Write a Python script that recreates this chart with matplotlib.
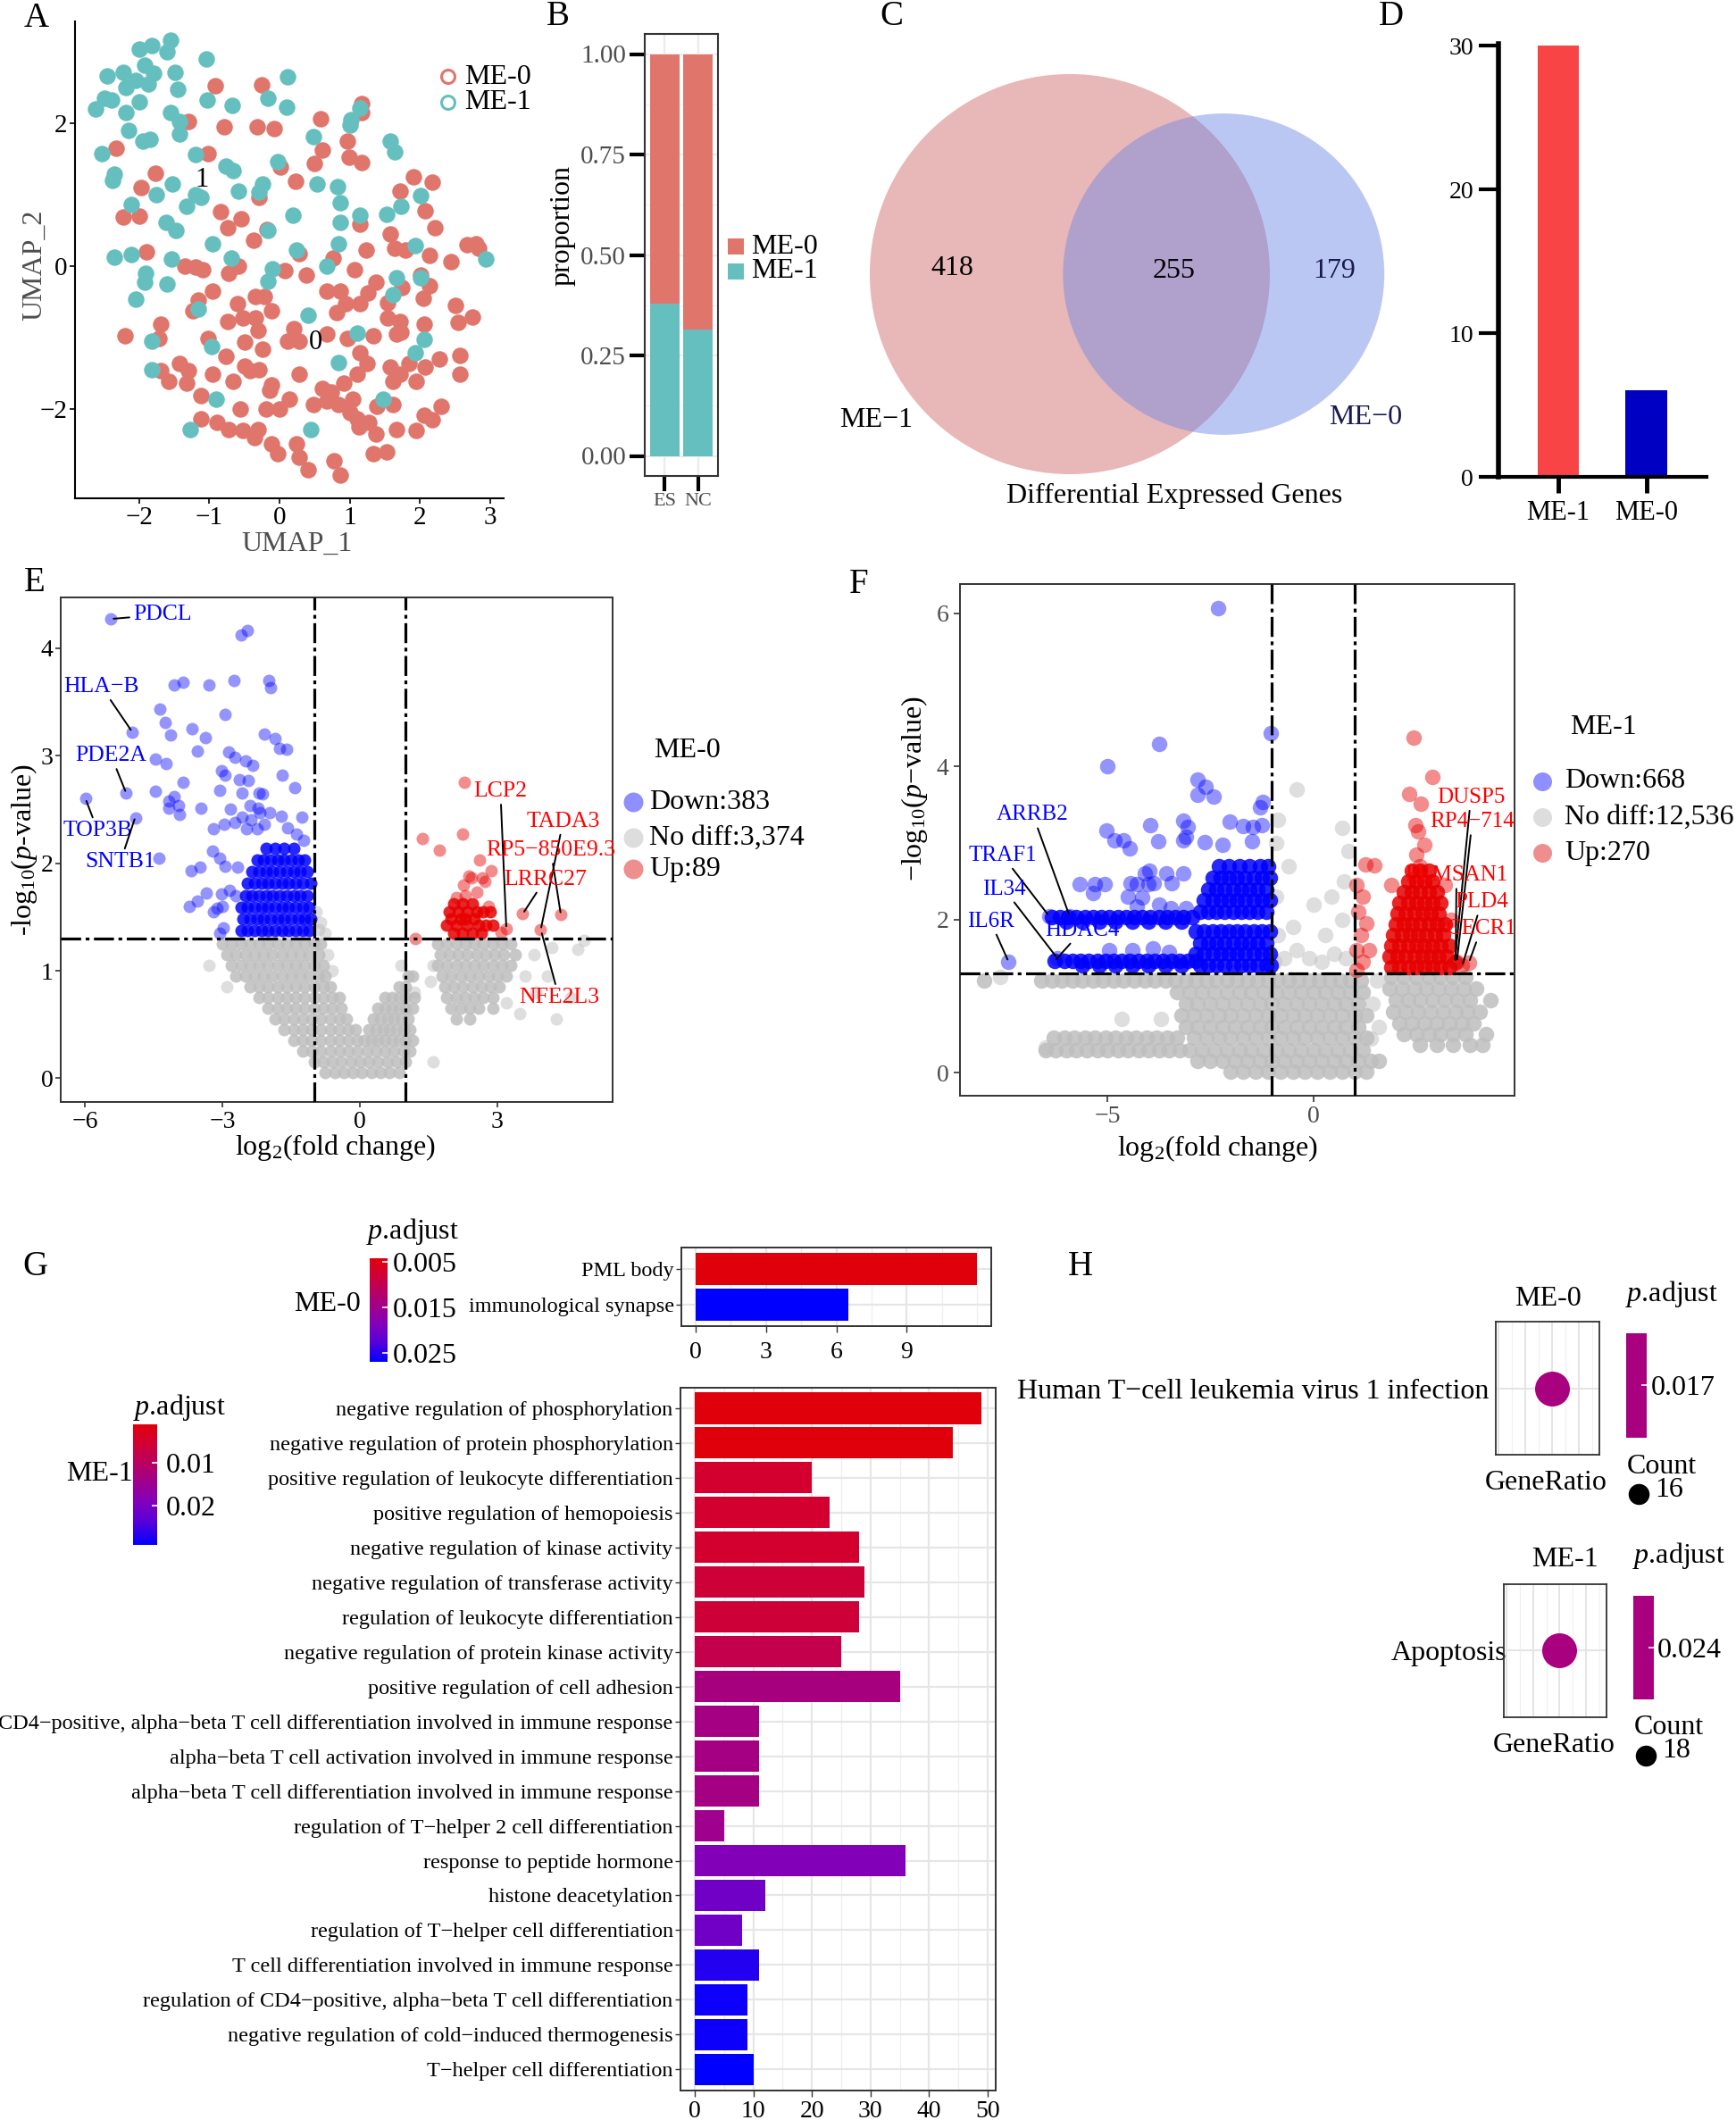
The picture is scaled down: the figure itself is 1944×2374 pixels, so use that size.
import numpy as np
import matplotlib
matplotlib.use("Agg")
import matplotlib.pyplot as plt
from matplotlib.colors import LinearSegmentedColormap, ListedColormap, Normalize
from matplotlib.cm import ScalarMappable
from matplotlib.patches import Circle
from matplotlib.ticker import MultipleLocator

plt.rcParams["font.family"] = ["Liberation Serif", "DejaVu Serif"]
plt.rcParams["mathtext.fontset"] = "custom"
plt.rcParams["mathtext.rm"] = "Liberation Serif"
plt.rcParams["mathtext.it"] = "Liberation Serif:italic"
plt.rcParams["mathtext.bf"] = "Liberation Serif:bold"

# ---------------- data ----------------
# A: UMAP coordinates
UMAP_ME0 = [
    (-0.92, 2.53), (-0.26, 2.54), (1.17, 2.28), (1.17, 2.15), (-1.29, 2.03), (-0.79, 1.96), (-0.32, 1.96),
    (-0.07, 1.93), (0.58, 2.07), (0.97, 1.76), (0.61, 1.63), (0.99, 1.53), (1.17, 1.45), (-1.02, 1.58),
    (-2.33, 1.66), (0.49, 1.44), (0.01, 1.39), (0.23, 1.19), (1.91, 1.25), (2.17, 1.18), (1.71, 1.06),
    (-1.77, 1.30), (-1.97, 1.11), (-0.29, 0.97), (-2.22, 0.69), (-2.00, 0.71), (-0.84, 0.77), (-0.54, 0.67),
    (-0.74, 0.54), (-0.37, 0.37), (-0.18, 0.52), (1.14, 0.59), (2.07, 0.78), (2.21, 0.54), (1.57, 0.45),
    (1.64, 0.25), (1.79, 0.23), (2.14, 0.15), (1.23, 0.23), (0.76, 0.12), (0.28, 0.18), (2.44, 0.07),
    (2.67, 0.30), (2.79, 0.32), (2.84, 0.25), (-1.89, 0.21), (-1.35, 0.00), (-1.20, -0.01), (-1.09, -0.05),
    (-0.72, -0.10), (-0.59, 0.00), (0.08, -0.06), (0.38, -0.12), (0.68, -0.35), (0.86, -0.35), (1.07, -0.05),
    (1.37, -0.22), (1.26, -0.37), (1.14, -0.52), (1.54, -0.51), (1.74, -0.30), (2.01, -0.12), (2.14, -0.27),
    (2.04, -0.44), (2.50, -0.54), (2.74, -0.71), (2.54, -0.78), (1.54, -0.72), (1.71, -0.77), (1.73, -0.92),
    (1.34, -0.97), (1.67, -0.94), (2.06, -0.81), (0.81, -0.64), (0.94, -0.52), (0.97, -1.01), (0.68, -0.94),
    (0.20, -0.87), (0.28, -1.05), (0.11, -1.04), (-0.12, -0.62), (-0.34, -0.72), (-0.30, -0.89), (-0.52, -0.72),
    (-0.74, -0.77), (-0.60, -0.52), (-0.34, -0.42), (-0.22, -0.42), (-0.95, -0.35), (-1.15, -0.47), (-1.23, -0.62),
    (-1.69, -0.81), (-1.72, -1.01), (-2.20, -0.97), (-1.02, -1.01), (-0.49, -1.06), (-0.24, -1.16), (-0.76, -1.26),
    (-1.42, -1.36), (-1.29, -1.46), (-1.69, -1.46), (-1.57, -1.61), (-1.32, -1.63), (-1.12, -1.81), (-0.95, -1.51),
    (-0.66, -1.61), (-0.50, -1.39), (-0.29, -1.44), (-0.42, -1.46), (-0.12, -1.66), (-0.14, -1.73), (0.28, -1.51),
    (0.61, -1.71), (0.74, -1.76), (0.91, -1.63), (1.04, -1.86), (1.14, -1.21), (1.24, -1.36), (1.11, -1.51),
    (1.57, -1.41), (1.71, -1.51), (1.61, -1.61), (1.84, -1.36), (2.07, -1.41), (2.27, -1.29), (2.57, -1.24),
    (2.57, -1.51), (1.94, -1.61), (1.61, -1.93), (1.39, -1.96), (1.01, -2.05), (0.84, -1.93), (0.68, -1.88),
    (0.48, -1.93), (0.14, -1.86), (0.00, -2.00), (-0.19, -2.00), (-0.56, -2.00), (-1.12, -2.13), (-0.89, -2.18),
    (-0.72, -2.28), (-0.52, -2.30), (-0.36, -2.40), (-0.30, -2.28), (-0.12, -2.48), (-0.02, -2.62), (0.24, -2.48),
    (0.28, -2.67), (0.41, -2.84), (0.78, -2.72), (0.86, -2.92), (1.13, -2.25), (1.11, -2.13), (1.27, -2.18),
    (1.37, -2.35), (1.34, -2.62), (1.53, -2.60), (1.67, -2.28), (1.94, -2.30), (2.06, -2.08), (2.17, -2.15),
    (2.30, -1.96),
]
UMAP_ME1 = [
    (-1.55, 3.17), (-1.60, 3.00), (-1.82, 3.09), (-1.99, 3.04), (-1.92, 2.82), (-1.79, 2.70), (-1.87, 2.55),
    (-2.05, 2.60), (-2.22, 2.72), (-2.45, 2.67), (-2.19, 2.50), (-1.99, 2.30), (-2.39, 2.33), (-2.62, 2.20),
    (-2.49, 2.35), (-2.19, 2.15), (-1.49, 2.72), (-1.45, 2.48), (-1.55, 2.15), (-1.42, 2.03), (-1.42, 1.86),
    (-2.15, 1.91), (-1.95, 1.76), (-1.84, 1.78), (-2.53, 1.58), (-2.35, 1.29), (-2.37, 1.21), (-2.11, 0.87),
    (-1.75, 1.01), (-1.52, 1.16), (-1.19, 1.57), (-1.20, 1.01), (-1.32, 0.84), (-1.12, 0.97), (-1.62, 0.62),
    (-1.47, 0.50), (-2.35, 0.13), (-2.11, 0.17), (-1.54, 0.11), (-1.91, -0.10), (-1.92, -0.22), (-1.60, -0.25),
    (-2.05, -0.46), (-1.15, -0.59), (-1.03, 2.33), (-1.04, 2.90), (-0.67, 2.25), (-0.17, 2.36), (0.11, 2.66),
    (0.10, 2.23), (0.48, 1.82), (1.02, 2.05), (1.14, 2.22), (1.01, 1.98), (1.58, 1.76), (1.64, 1.60),
    (-0.02, 1.47), (-0.76, 1.41), (-0.66, 1.34), (-0.59, 1.06), (-0.24, 1.16), (-0.29, 1.04), (0.54, 1.16),
    (0.82, 1.12), (0.86, 0.89), (0.19, 0.72), (-0.16, 0.50), (-0.95, 0.32), (-0.69, 0.12), (0.24, 0.23),
    (-0.10, -0.03), (-0.17, -0.21), (0.84, 0.32), (0.87, 0.62), (1.14, 0.72), (1.53, 0.73), (1.73, 0.84),
    (2.01, 0.99), (1.93, 0.29), (0.68, 0.01), (1.66, -0.16), (2.01, -0.16), (1.61, -0.40), (0.41, -0.68),
    (1.11, -0.93), (2.06, -1.02), (1.93, -1.21), (2.94, 0.11), (-1.82, -1.04), (-0.97, -1.12), (0.84, -1.35),
    (-1.82, -1.44), (-0.90, -1.86), (1.47, -1.86), (-1.27, -2.28), (0.44, -2.28),
]
UMAP_CLUSTER_LABELS = {"1": (-1.11, 1.21), "0": (0.51, -1.06)}

# B: cell proportions
PROP_GROUPS = ["ES", "NC"]
PROP_ME1 = [0.38, 0.315]
PROP_ME0 = [0.62, 0.685]

# C: DEG overlap
VENN_ONLY_ME1 = 418
VENN_BOTH = 255
VENN_ONLY_ME0 = 179

# D
D_GROUPS = ["ME-1", "ME-0"]
D_VALUES = [30, 6]

# E: volcano ME-0 (sparse points one by one, dense clouds as rows of x at one y)
E_DOWN_SPARSE = [
    (-5.43, 4.27), (-2.59, 4.12), (-2.45, 4.16), (-4.05, 3.66), (-3.85, 3.68), (-3.29, 3.66), (-2.75, 3.70),
    (-1.99, 3.70), (-1.94, 3.63), (-4.36, 3.43), (-4.25, 3.31), (-4.97, 3.22), (-2.95, 3.38), (-4.13, 3.19),
    (-3.67, 3.25), (-3.38, 3.17), (-2.08, 3.20), (-1.85, 3.16), (-1.75, 3.07), (-1.60, 3.06), (-4.47, 2.97),
    (-4.23, 2.93), (-3.55, 3.04), (-2.86, 3.03), (-2.72, 2.98), (-2.50, 2.95), (-2.33, 2.91), (-3.03, 2.86),
    (-2.95, 2.82), (-2.63, 2.78), (-2.43, 2.77), (-1.69, 2.82), (-1.43, 2.70), (-5.10, 2.65), (-5.99, 2.60),
    (-4.47, 2.67), (-3.85, 2.75), (-4.18, 2.58), (-4.05, 2.62), (-3.96, 2.54), (-3.94, 2.45), (-4.18, 2.51),
    (-3.46, 2.51), (-3.06, 2.68), (-2.57, 2.65), (-2.21, 2.65), (-2.12, 2.64), (-2.39, 2.54), (-2.23, 2.51),
    (-4.90, 2.42), (-2.82, 2.50), (-2.57, 2.43), (-2.37, 2.40), (-2.18, 2.47), (-1.96, 2.47), (-1.72, 2.44),
    (-1.27, 2.43), (-3.20, 2.32), (-2.97, 2.36), (-2.72, 2.38), (-2.48, 2.32), (-2.24, 2.32), (-2.08, 2.36),
    (-1.58, 2.33), (-1.39, 2.27), (-1.23, 2.21), (-4.38, 2.05), (-3.69, 1.93), (-3.48, 1.96), (-3.22, 2.11),
    (-3.06, 2.05), (-2.95, 1.97), (-2.66, 1.96), (-3.55, 1.65), (-3.35, 1.72), (-3.12, 1.58), (-3.00, 1.60),
    (-3.20, 1.55), (-2.85, 1.75), (-2.70, 1.70), (-2.98, 1.40), (-3.05, 1.35), (-3.73, 1.60), (-3.02, 1.71),
]
E_DOWN_ROWS = {
    1.37: [-2.6, -2.45, -2.3, -2.15, -2.0, -1.85, -1.7, -1.55, -1.4, -1.25, -1.1],
    1.48: [-2.55, -2.4, -2.25, -2.1, -1.95, -1.8, -1.65, -1.5, -1.35, -1.2, -1.07],
    1.59: [-2.6, -2.45, -2.3, -2.15, -2.0, -1.85, -1.7, -1.55, -1.4, -1.25, -1.1],
    1.70: [-2.5, -2.35, -2.2, -2.05, -1.9, -1.75, -1.6, -1.45, -1.3, -1.15],
    1.81: [-2.45, -2.3, -2.15, -2.0, -1.85, -1.7, -1.55, -1.4, -1.25, -1.08],
    1.92: [-2.35, -2.2, -2.05, -1.9, -1.75, -1.6, -1.45, -1.3, -1.15],
    2.03: [-2.25, -2.1, -1.95, -1.8, -1.65, -1.5, -1.35, -1.2],
    2.14: [-2.05, -1.85, -1.65, -1.45],
}
E_UP_SPARSE = [
    (2.29, 2.75), (2.25, 2.27), (1.37, 2.23), (1.73, 2.12), (2.61, 2.03), (2.87, 1.93), (2.38, 1.88),
    (2.44, 1.86), (2.67, 1.86), (2.74, 1.83), (2.27, 1.80), (2.56, 1.73), (3.56, 1.53), (4.39, 1.52),
    (3.20, 1.39), (3.95, 1.38), (3.09, 1.36), (1.21, 1.30), (2.80, 1.60), (2.30, 1.70), (2.10, 1.68),
]
E_UP_ROWS = {
    1.35: [2.05, 2.25, 2.45, 2.65],
    1.42: [1.9, 2.1, 2.35, 2.6, 2.75, 2.9],
    1.48: [2.0, 2.2, 2.3, 2.5],
    1.55: [1.95, 2.15, 2.35, 2.55, 2.7, 2.85],
    1.62: [2.05, 2.25, 2.45],
}
E_GRAY_ROWS = {
    1.25: [-3.0, -2.8, -2.6, -2.4, -2.2, -2.0, -1.8, -1.6, -1.4, -1.2, -1.0, -0.85,
           1.7, 1.9, 2.1, 2.3, 2.5, 2.7, 2.9, 3.1, 3.3],
    1.15: [-2.9, -2.7, -2.5, -2.3, -2.1, -1.9, -1.7, -1.5, -1.3, -1.1, -0.9,
           1.75, 1.95, 2.15, 2.35, 2.55, 2.75, 2.95, 3.15, 3.4],
    1.05: [-2.8, -2.6, -2.4, -2.2, -2.0, -1.8, -1.6, -1.4, -1.2, -1.0, -0.8,
           1.7, 1.9, 2.1, 2.3, 2.5, 2.7, 2.9, 3.1, 3.3],
    0.95: [-2.7, -2.5, -2.3, -2.1, -1.9, -1.7, -1.5, -1.3, -1.1, -0.9, -0.75, 1.05, 1.15,
           1.8, 2.0, 2.2, 2.4, 2.6, 2.8, 3.0, 3.2],
    0.85: [-2.4, -2.2, -2.0, -1.8, -1.6, -1.4, -1.2, -1.0, -0.8, -0.65, 0.85, 1.0,
           1.85, 2.05, 2.25, 2.45, 2.65, 2.85, 3.05],
    0.75: [-2.2, -2.0, -1.8, -1.6, -1.4, -1.2, -1.0, -0.8, -0.6, -0.45, 0.55, 0.7, 0.85, 1.0, 1.2,
           1.9, 2.1, 2.3, 2.5, 2.7, 2.9],
    0.65: [-2.0, -1.8, -1.6, -1.4, -1.2, -1.0, -0.8, -0.6, -0.4, 0.4, 0.55, 0.7, 0.85, 1.0, 1.15,
           2.0, 2.2, 2.4, 2.6, 2.9],
    0.55: [-1.85, -1.65, -1.45, -1.25, -1.05, -0.85, -0.65, -0.45, -0.3, 0.3, 0.45, 0.6, 0.75, 0.9, 1.05,
           2.1, 2.4],
    0.45: [-1.65, -1.45, -1.25, -1.05, -0.85, -0.65, -0.45, -0.25, -0.1, 0.2, 0.35, 0.5, 0.65, 0.8, 0.95, 1.1],
    0.35: [-1.45, -1.25, -1.05, -0.85, -0.65, -0.45, -0.25, -0.05, 0.1, 0.25, 0.4, 0.55, 0.7, 0.85, 1.0, 1.15],
    0.25: [-1.25, -1.05, -0.85, -0.65, -0.45, -0.25, -0.05, 0.15, 0.35, 0.55, 0.75, 0.95, 1.1],
    0.15: [-1.0, -0.8, -0.6, -0.4, -0.2, 0.0, 0.2, 0.4, 0.6, 0.8, 1.0],
    0.05: [-0.75, -0.55, -0.35, -0.15, 0.05, 0.25, 0.45, 0.65, 0.85],
}
E_GRAY_SPARSE = [
    (-0.95, 1.55), (-0.85, 1.45), (-0.9, 1.38), (-0.75, 1.35), (-0.7, 1.15), (-0.6, 1.0), (0.9, 1.05),
    (1.2, 0.8), (1.6, 0.15), (1.55, 0.9), (1.6, 1.05), (3.6, 0.95), (3.85, 0.8), (4.1, 0.95), (4.3, 0.55),
    (4.6, 0.75), (4.75, 1.2), (4.9, 1.28), (4.2, 1.22), (3.8, 1.15), (-3.3, 1.05), (-2.9, 0.85),
    (3.5, 0.6), (3.2, 0.7),
]
E_LABELS = [  # gene, point, text position, colour
    ("PDCL", (-5.43, 4.27), (-4.31, 4.31), "#0000FF"),
    ("HLA\u2212B", (-4.97, 3.22), (-5.64, 3.64), "#0000FF"),
    ("PDE2A", (-5.10, 2.65), (-5.43, 3.00), "#0000FF"),
    ("TOP3B", (-5.99, 2.60), (-5.72, 2.30), "#0000FF"),
    ("SNTB1", (-4.90, 2.43), (-5.23, 2.01), "#0000FF"),
    ("LCP2", (3.20, 1.39), (3.07, 2.67), "#FF0000"),
    ("TADA3", (3.95, 1.38), (4.44, 2.39), "#FF0000"),
    ("RP5\u2212850E9.3", (4.39, 1.52), (4.17, 2.12), "#FF0000"),
    ("LRRC27", (3.56, 1.53), (4.05, 1.85), "#FF0000"),
    ("NFE2L3", (3.96, 1.37), (4.35, 0.75), "#FF0000"),
]
E_COUNTS = ["Down:383", "No diff:3,374", "Up:89"]

# F: volcano ME-1
F_DOWN_SPARSE = [
    (-2.31, 6.07), (-1.03, 4.44), (-3.75, 4.30), (-5.00, 4.00), (-2.80, 3.83), (-2.62, 3.74), (-2.41, 3.61),
    (-2.80, 3.63), (-1.29, 3.47), (-1.22, 3.54), (-3.16, 3.29), (-3.05, 3.21), (-3.97, 3.24), (-2.03, 3.28),
    (-1.71, 3.22), (-1.46, 3.21), (-1.25, 3.24), (-5.03, 3.17), (-4.82, 3.04), (-4.62, 3.04), (-4.46, 2.93),
    (-3.77, 3.03), (-3.16, 3.04), (-3.09, 3.08), (-2.63, 3.01), (-2.21, 2.98), (-1.49, 3.02), (-3.98, 2.64),
    (-4.08, 2.61), (-3.58, 2.61), (-3.16, 2.61), (-4.43, 2.48), (-4.29, 2.46), (-4.01, 2.46), (-3.87, 2.48),
    (-3.44, 2.48), (-5.67, 2.47), (-5.31, 2.47), (-5.07, 2.47), (-5.35, 2.35), (-4.50, 2.30), (-4.15, 2.29),
    (-4.29, 2.17), (-3.75, 2.20), (-3.47, 2.15), (-3.09, 2.15), (-7.40, 1.45), (-4.95, 1.60), (-4.40, 1.60),
    (-3.90, 1.62), (-3.50, 1.58), (-6.42, 2.05), (-5.92, 2.05), (-6.22, 1.50),
]
F_DOWN_ROWS = {
    2.03: [-6.35, -6.15, -5.95, -5.75, -5.55, -5.35, -5.15, -4.95, -4.75, -4.55, -4.35, -4.15, -3.95,
           -3.75, -3.55, -3.35, -3.15, -2.95],
    1.97: [-6.0, -5.6, -5.2, -4.8, -4.4, -4.0, -3.6, -3.2],
    1.46: [-6.28, -6.05, -5.85, -5.65, -5.45, -5.25, -5.05, -4.85, -4.65, -4.45, -4.25, -4.05, -3.85,
           -3.65, -3.45, -3.25, -3.05, -2.85],
    1.40: [-5.6, -5.2, -4.8, -4.4, -4.0, -3.6, -3.2, -2.75, -2.55, -2.35, -2.15, -1.95, -1.75, -1.55,
           -1.35, -1.15, -1.03],
    1.55: [-2.85, -2.65, -2.45, -2.25, -2.05, -1.85, -1.65, -1.45, -1.25, -1.05],
    1.70: [-2.75, -2.55, -2.35, -2.15, -1.95, -1.75, -1.55, -1.35, -1.15],
    1.85: [-2.85, -2.65, -2.45, -2.25, -2.05, -1.85, -1.65, -1.45, -1.25, -1.05],
    2.10: [-2.75, -2.55, -2.35, -2.15, -1.95, -1.75, -1.55, -1.35, -1.15],
    2.25: [-2.65, -2.45, -2.25, -2.05, -1.85, -1.65, -1.45, -1.25, -1.05],
    2.40: [-2.55, -2.35, -2.15, -1.95, -1.75, -1.55, -1.35, -1.15],
    2.55: [-2.45, -2.25, -2.05, -1.85, -1.65, -1.45, -1.25, -1.05],
    2.70: [-2.3, -2.05, -1.8, -1.55, -1.3, -1.1],
}
F_UP_SPARSE = [
    (2.44, 4.38), (2.90, 3.86), (2.32, 3.64), (2.62, 3.51), (2.48, 3.24), (2.55, 3.15), (2.70, 2.98),
    (2.50, 2.85), (2.60, 2.70), (1.26, 2.72), (1.49, 2.71), (1.05, 2.45), (1.10, 2.10), (1.15, 1.80),
    (1.05, 1.60), (1.20, 1.45), (1.30, 1.95), (1.20, 2.30), (1.05, 1.35), (1.35, 1.60), (3.44, 1.45),
    (3.49, 1.45), (3.46, 1.44), (3.62, 1.40), (3.78, 1.44), (3.2, 2.45), (1.9, 2.45), (3.35, 2.0),
]
F_UP_ROWS = {
    1.38: [1.9, 2.1, 2.3, 2.5, 2.7, 2.9, 3.1, 3.3],
    1.52: [1.85, 2.05, 2.25, 2.45, 2.65, 2.85, 3.05, 3.25],
    1.66: [1.9, 2.1, 2.3, 2.5, 2.7, 2.9, 3.1, 3.3],
    1.80: [1.95, 2.15, 2.35, 2.55, 2.75, 2.95, 3.15],
    1.94: [2.0, 2.2, 2.4, 2.6, 2.8, 3.0, 3.2],
    2.08: [2.05, 2.25, 2.45, 2.65, 2.85, 3.05],
    2.22: [2.1, 2.3, 2.5, 2.7, 2.9, 3.1],
    2.36: [2.2, 2.4, 2.6, 2.8, 3.0],
    2.50: [2.3, 2.5, 2.7, 2.9],
    2.64: [2.4, 2.6, 2.8],
}
F_GRAY_ROWS = {
    0.02: [-2.0, -1.7, -1.4, -1.1, -0.8, -0.5, -0.2, 0.1, 0.4, 0.7, 1.0, 1.3],
    0.15: [-2.8, -2.5, -2.2, -1.9, -1.6, -1.3, -1.0, -0.7, -0.4, -0.1, 0.2, 0.5, 0.8, 1.1, 1.4, 1.6],
    0.30: [-6.5, -6.25, -6.0, -5.75, -5.5, -5.25, -5.0, -4.75, -4.5, -4.25, -4.0, -3.75, -3.5, -3.25,
           -3.0, -2.7, -2.4, -2.1, -1.8, -1.5, -1.2, -0.9, -0.6, -0.3, 0.0, 0.3, 0.6, 0.9, 1.2],
    0.46: [-6.3, -6.05, -5.8, -5.55, -5.3, -5.05, -4.8, -4.55, -4.3, -4.05, -3.8, -3.55, -3.3, -2.9,
           -2.6, -2.3, -2.0, -1.7, -1.4, -1.1, -0.8, -0.5, -0.2, 0.1, 0.4, 0.7, 1.0, 1.3],
    0.60: [-3.1, -2.8, -2.5, -2.2, -1.9, -1.6, -1.3, -1.0, -0.7, -0.4, -0.1, 0.2, 0.5, 0.8, 1.1],
    0.75: [-3.2, -2.9, -2.6, -2.3, -2.0, -1.7, -1.4, -1.1, -0.8, -0.5, -0.2, 0.1, 0.4, 0.7, 1.0, 1.3],
    0.90: [-3.1, -2.8, -2.5, -2.2, -1.9, -1.6, -1.3, -1.0, -0.7, -0.4, -0.1, 0.2, 0.5, 0.8, 1.1],
    1.05: [-3.3, -3.0, -2.7, -2.4, -2.1, -1.8, -1.5, -1.2, -0.9, -0.6, -0.3, 0.0, 0.3, 0.6, 0.9, 1.2],
    1.20: [-8.0, -6.6, -6.35, -6.1, -5.85, -5.6, -5.35, -5.1, -4.85, -4.6, -4.35, -4.1, -3.85, -3.6,
           -3.35, -3.1, -2.85, -2.6, -2.35, -2.1, -1.85, -1.6, -1.35, -1.1, -0.85, -0.6, -0.35, -0.1,
           0.15, 0.4, 0.65, 0.9, 1.15],
    1.25: [1.9, 2.2, 2.5, 2.8, 3.1, 3.4, 3.7],
    1.10: [1.85, 2.15, 2.45, 2.75, 3.05, 3.35, 3.65, 3.95],
    0.95: [2.0, 2.3, 2.6, 2.9, 3.2, 3.5, 3.8, 4.3],
    0.80: [1.95, 2.25, 2.55, 2.85, 3.15, 3.45, 3.75, 4.05],
    0.65: [2.1, 2.4, 2.7, 3.0, 3.3, 3.6, 3.9],
    0.50: [2.2, 2.5, 2.8, 3.1, 3.4, 3.7, 4.2],
    0.36: [2.6, 3.0, 3.4, 3.8, 4.1],
}
F_GRAY_SPARSE = [
    (-0.95, 1.45), (-0.7, 1.5), (-0.4, 1.6), (-0.1, 1.5), (0.2, 1.45), (0.5, 1.55), (0.8, 1.5),
    (-0.85, 1.8), (-0.5, 1.9), (0.3, 1.8), (0.7, 2.0), (-0.9, 2.3), (0.45, 2.3), (0.75, 2.5),
    (-0.6, 2.7), (-0.85, 3.3), (0.85, 2.9), (0.7, 3.2), (-0.4, 3.7), (-0.9, 3.0), (0.0, 2.2),
    (1.4, 0.45), (1.45, 0.9), (1.55, 1.2), (1.6, 0.6), (-4.66, 0.70), (-3.7, 0.70), (-6.49, 0.33),
    (-7.6, 1.25),
]
F_LABELS = [
    ("ARRB2", (-5.92, 2.05), (-6.81, 3.37), "#0000FF"),
    ("TRAF1", (-6.42, 2.05), (-7.55, 2.84), "#0000FF"),
    ("IL34", (-6.22, 1.50), (-7.51, 2.40), "#0000FF"),
    ("IL6R", (-7.40, 1.45), (-7.84, 1.98), "#0000FF"),
    ("HDAC4", (-6.28, 1.46), (-5.61, 1.86), "#0000FF"),
    ("DUSP5", (3.44, 1.45), (3.83, 3.60), "#FF0000"),
    ("RP4\u2212714", (3.49, 1.45), (3.86, 3.28), "#FF0000"),
    ("ELMSAN1", (3.46, 1.44), (3.48, 2.58), "#FF0000"),
    ("PLD4", (3.62, 1.40), (4.09, 2.23), "#FF0000"),
    ("CECR1", (3.78, 1.44), (4.08, 1.88), "#FF0000"),
]
F_COUNTS = ["Down:668", "No diff:12,536", "Up:270"]

# G: GO enrichment
GO_ME0_TERMS = ["PML body", "immunological synapse"]
GO_ME0_COUNT = [12, 6.5]
GO_ME0_PADJ = [0.0042, 0.027]
GO_ME1_TERMS = [
    "negative regulation of phosphorylation",
    "negative regulation of protein phosphorylation",
    "positive regulation of leukocyte differentiation",
    "positive regulation of hemopoiesis",
    "negative regulation of kinase activity",
    "negative regulation of transferase activity",
    "regulation of leukocyte differentiation",
    "negative regulation of protein kinase activity",
    "positive regulation of cell adhesion",
    "CD4\u2212positive, alpha\u2212beta T cell differentiation involved in immune response",
    "alpha\u2212beta T cell activation involved in immune response",
    "alpha\u2212beta T cell differentiation involved in immune response",
    "regulation of T\u2212helper 2 cell differentiation",
    "response to peptide hormone",
    "histone deacetylation",
    "regulation of T\u2212helper cell differentiation",
    "T cell differentiation involved in immune response",
    "regulation of CD4\u2212positive, alpha\u2212beta T cell differentiation",
    "negative regulation of cold\u2212induced thermogenesis",
    "T\u2212helper cell differentiation",
]
GO_ME1_COUNT = [49, 44, 20, 23, 28, 29, 28, 25, 35, 11, 11, 11, 5, 36, 12, 8, 11, 9, 9, 10]
GO_ME1_PADJ = [0.0011, 0.0011, 0.005, 0.005, 0.005, 0.006, 0.006, 0.008, 0.013, 0.0135,
               0.0135, 0.0135, 0.0145, 0.019, 0.021, 0.021, 0.027, 0.0285, 0.0285, 0.0293]

# H: KEGG dot plots (term, GeneRatio, Count, p.adjust)
H_ME0 = ("Human T\u2212cell leukemia virus 1 infection", 0.128, 16, 0.017)
H_ME1 = ("Apoptosis", 0.112, 18, 0.024)

# ---------------- styling ----------------
RED_A = "#E0756B"
TEAL_A = "#66BFBF"
PADJ_CMAP = LinearSegmentedColormap.from_list(
    "padj", [(0, "#E0000C"), (0.15, "#D20032"), (0.42, "#A8007E"),
             (0.63, "#8400B8"), (0.8, "#5A00D8"), (1, "#0000FF")])
H_COLOR = "#A8007E"
FS = 23

W, H = 1944, 2374
fig = plt.figure(figsize=(W / 100, H / 100), dpi=100)


def box(l, t, r, b):
    return [l / W, 1 - b / H, (r - l) / W, (b - t) / H]


def s_px(d):
    # scatter size for a marker of diameter d pixels
    return (d * 0.72) ** 2


def rows_xy(rows):
    xs, ys = [], []
    for y, xl in rows.items():
        xs += list(xl)
        ys += [y] * len(xl)
    return np.array(xs), np.array(ys)


def pts_xy(pts):
    a = np.array(pts)
    return a[:, 0], a[:, 1]


ov = fig.add_axes([0, 0, 1, 1], zorder=10)
ov.set_xlim(0, W)
ov.set_ylim(H, 0)
ov.axis("off")


def T(x, y, s, size=FS, **kw):
    kw.setdefault("ha", "center")
    kw.setdefault("va", "center")
    ov.text(x, y, s, fontsize=size, **kw)


def dot(x, y, d, color, **kw):
    ov.scatter([x], [y], s=s_px(d), color=color, linewidths=0, **kw)


for lab, (x, y) in {"A": (41, 21), "B": (625, 19), "C": (998, 19), "D": (1558, 19),
                    "E": (39, 653), "F": (962, 654), "G": (39, 1419), "H": (1210, 1419)}.items():
    T(x, y, lab, 28)

# ---------------- A ----------------
axA = fig.add_axes(box(84, 24, 564, 557.5))
axA.scatter(*pts_xy(UMAP_ME0), s=s_px(18.5), color=RED_A, linewidths=0)
axA.scatter(*pts_xy(UMAP_ME1), s=s_px(18.5), color=TEAL_A, linewidths=0)
for lab, (x, y) in UMAP_CLUSTER_LABELS.items():
    axA.text(x, y, lab, fontsize=22, ha="center", va="center")
axA.set_xlim(-2.91, 3.19)
axA.set_ylim(-3.24, 3.43)
axA.set_xticks([-2, -1, 0, 1, 2, 3])
axA.set_yticks([-2, 0, 2])
for sp in ["top", "right"]:
    axA.spines[sp].set_visible(False)
for sp in ["left", "bottom"]:
    axA.spines[sp].set_linewidth(1.5)
axA.tick_params(labelsize=21, length=4, width=1.2)
axA.tick_params(axis="x", pad=3)
axA.tick_params(axis="y", pad=2)
T(332, 609, "UMAP_1", color="#4D4D4D")
T(39, 297, "UMAP_2", color="#4D4D4D", rotation=90)
for (y, lab, c) in [(86, "ME-0", RED_A), (115, "ME-1", TEAL_A)]:
    ov.scatter([502], [y], s=s_px(15), facecolors="none", edgecolors=c, linewidths=2.2)
    T(520, y, lab, ha="left")

# ---------------- B ----------------
axB = fig.add_axes(box(722, 38, 804, 533))
xb = np.arange(len(PROP_GROUPS))
axB.bar(xb, PROP_ME1, width=0.9, color=TEAL_A, zorder=2)
axB.bar(xb, PROP_ME0, bottom=PROP_ME1, width=0.9, color=RED_A, zorder=2)
axB.set_xlim(-0.6, 1.6)
axB.set_ylim(-0.05, 1.05)
axB.set_xticks(xb, PROP_GROUPS)
axB.set_yticks([0, 0.25, 0.5, 0.75, 1.0], ["0.00", "0.25", "0.50", "0.75", "1.00"])
axB.yaxis.set_minor_locator(MultipleLocator(0.125))
axB.grid(True, which="major", color="#EBEBEB", lw=1.6, zorder=0)
axB.grid(True, which="minor", axis="y", color="#F2F2F2", lw=0.8, zorder=0)
axB.tick_params(axis="y", labelsize=21, length=12, width=3, labelcolor="#4D4D4D", pad=3)
axB.tick_params(axis="x", labelsize=16, length=12, width=3, labelcolor="#4D4D4D", pad=2)
axB.tick_params(which="minor", length=0)
for sp in axB.spines.values():
    sp.set_color("#333333")
    sp.set_linewidth(1.5)
T(630, 253, "proportion", rotation=90)
for (y, lab, c) in [(276, "ME-0", RED_A), (303.5, "ME-1", TEAL_A)]:
    ov.scatter([824], [y], s=s_px(18), marker="s", color=c, linewidths=0)
    T(841, y, lab, ha="left")

# ---------------- C ----------------
def lens_area(r1, r2, d):
    a1 = np.arccos((d * d + r1 * r1 - r2 * r2) / (2 * d * r1))
    a2 = np.arccos((d * d + r2 * r2 - r1 * r1) / (2 * d * r2))
    k = np.sqrt((-d + r1 + r2) * (d + r1 - r2) * (d - r1 + r2) * (d + r1 + r2))
    return r1 * r1 * a1 + r2 * r2 * a2 - 0.5 * k


# area-proportional circles: radius from set size, centre distance from the overlap
r_me1 = np.sqrt(VENN_ONLY_ME1 + VENN_BOTH)
r_me0 = np.sqrt(VENN_ONLY_ME0 + VENN_BOTH)
lo, hi = abs(r_me1 - r_me0) + 1e-6, r_me1 + r_me0 - 1e-6
for _ in range(60):
    mid = 0.5 * (lo + hi)
    if lens_area(r_me1, r_me0, mid) > np.pi * VENN_BOTH:
        lo = mid
    else:
        hi = mid
d_c = 0.5 * (lo + hi)

axC = fig.add_axes(box(960, 60, 1580, 560))
axC.set_xlim(-27.56, 44.24)
axC.set_ylim(-29.3, 28.6)
axC.axis("off")
axC.add_patch(Circle((0, 0), r_me1, facecolor="#E8B7B7", edgecolor="none"))
axC.add_patch(Circle((d_c, 0), r_me0, facecolor="#6C86E6", alpha=0.46, edgecolor="none"))
axC.text(-15.2, 0.8, str(VENN_ONLY_ME1), fontsize=FS, ha="center", va="center")
axC.text(13.5, 0.35, str(VENN_BOTH), fontsize=FS, ha="center", va="center")
axC.text(34.3, 0.35, str(VENN_ONLY_ME0), fontsize=FS, ha="center", va="center", color="#1A1A50")
axC.text(-25.1, -18.9, "ME\u22121", fontsize=FS, ha="center", va="center")
axC.text(38.4, -18.6, "ME\u22120", fontsize=FS, ha="center", va="center", color="#1A1A50")
T(1315, 555, "Differential Expressed Genes")

# ---------------- D ----------------
axD = fig.add_axes(box(1678, 49, 1911, 534))
axD.bar(np.arange(2), D_VALUES, width=0.47, color=["#F84444", "#0000C2"])
axD.set_xlim(-0.68, 1.685)
axD.set_ylim(0, 30.15)
axD.set_yticks([0, 10, 20, 30])
axD.set_xticks(np.arange(2), D_GROUPS)
for sp in ["top", "right"]:
    axD.spines[sp].set_visible(False)
axD.spines["left"].set_linewidth(4)
axD.spines["bottom"].set_linewidth(3)
axD.tick_params(axis="y", labelsize=20, length=16, width=3, pad=4)
axD.tick_params(axis="x", labelsize=22, length=13, width=3.5, pad=6)


# ---------------- E / F volcano ----------------
def volcano(ax, groups, size, labels, label_size, clip):
    # groups: (colour, sparse points, dense rows, sparse alpha)
    for color, sparse, rows, alpha in groups:
        z = 1 if color == "#BEBEBE" else 2
        ax.scatter(*rows_xy(rows), s=size, color=color, alpha=0.85, linewidths=0, zorder=z)
        ax.scatter(*pts_xy(sparse), s=size, color=color, alpha=alpha, linewidths=0, zorder=z)
    dash = (0, (7, 1.6, 1.3, 1.6))
    for xv in (-1, 1):
        ax.axvline(xv, color="black", lw=2.3, ls=dash, zorder=3)
    ax.axhline(-np.log10(0.05), color="black", lw=2.3, ls=dash, zorder=3)
    for name, pt, txt, c in labels:
        ax.annotate(name, xy=pt, xytext=txt, textcoords="data", ha="center", va="center",
                    color=c, fontsize=label_size, zorder=5, clip_on=clip,
                    arrowprops=dict(arrowstyle="-", color="black", lw=1.4, shrinkA=1, shrinkB=2))
    for sp in ax.spines.values():
        sp.set_color("#333333")
        sp.set_linewidth(1.4)


axE = fig.add_axes(box(68, 669, 685.5, 1234))
volcano(axE, [("#BEBEBE", E_GRAY_SPARSE, E_GRAY_ROWS, 0.5),
              ("#0000FF", E_DOWN_SPARSE, E_DOWN_ROWS, 0.42),
              ("#E60000", E_UP_SPARSE, E_UP_ROWS, 0.45)],
        s_px(14), E_LABELS, 18.5, False)
axE.set_xlim(-6.53, 5.51)
axE.set_ylim(-0.22, 4.47)
axE.set_xticks([-6, -3, 0, 3])
axE.set_yticks([0, 1, 2, 3, 4])
axE.tick_params(labelsize=20, length=4, width=1.2, color="#333333")
axE.tick_params(axis="x", pad=3)
axE.tick_params(axis="y", pad=2)
T(376, 1285, r"log$_2$(fold change)")
T(27, 952, r"-log$_{10}$($p$-value)", rotation=90)
T(769, 841, "ME-0")
for y, lab, c in zip([898, 938, 973], E_COUNTS, ["#8F8FFF", "#DDDDDD", "#EE8E8E"]):
    dot(709, y, 22, c)
    T(727, y, lab, ha="left")

axF = fig.add_axes(box(1075, 654.4, 1696, 1227))
volcano(axF, [("#BEBEBE", F_GRAY_SPARSE, F_GRAY_ROWS, 0.5),
              ("#0000FF", F_DOWN_SPARSE, F_DOWN_ROWS, 0.42),
              ("#E60000", F_UP_SPARSE, F_UP_ROWS, 0.45)],
        s_px(17.5), F_LABELS, 18, True)
axF.set_xlim(-8.58, 4.89)
axF.set_ylim(-0.30, 6.38)
axF.set_xticks([-5, 0])
axF.set_yticks([0, 2, 4, 6])
axF.tick_params(labelsize=20, length=5, width=1.2, color="#333333", labelcolor="#4D4D4D")
axF.tick_params(axis="x", pad=3)
axF.tick_params(axis="y", pad=4)
T(1364, 1286, r"log$_2$(fold change)")
T(1024, 883, "\u2212log$_{10}$($p$\u2212value)", rotation=90)
T(1795, 814, "ME-1")
for y, lab, c in zip([875, 915, 955], F_COUNTS, ["#8F8FFF", "#DDDDDD", "#EE8E8E"]):
    dot(1727, y, 21, c)
    T(1752, y, lab, ha="left")


# ---------------- G ----------------
def go_axes(ax, terms, counts, colors, xmax, step, minor, label_size, tick_size):
    y = np.arange(1, len(terms) + 1)
    ax.barh(y, counts, height=0.9, color=colors, zorder=2)
    ax.set_ylim(len(terms) + 0.6, 0.4)
    ax.set_xlim(-0.05 * xmax, 1.05 * xmax)
    ax.set_yticks(y, terms)
    ax.xaxis.set_major_locator(MultipleLocator(step))
    ax.xaxis.set_minor_locator(MultipleLocator(minor))
    ax.grid(True, which="major", color="#E6E6E6", lw=1.6, zorder=0)
    ax.grid(True, which="minor", axis="x", color="#EFEFEF", lw=0.9, zorder=0)
    ax.tick_params(axis="y", labelsize=label_size, length=4, width=1, color="#333333", pad=2)
    ax.tick_params(axis="x", labelsize=tick_size, length=5, width=1, color="#333333")
    ax.tick_params(which="minor", length=0)
    for sp in ax.spines.values():
        sp.set_color("#333333")
        sp.set_linewidth(1.4)


norm_g0 = Normalize(0.0042, 0.027)
norm_g1 = Normalize(0.0011, 0.0293)

axG1 = fig.add_axes(box(763.4, 1397, 1109.7, 1485.4))
go_axes(axG1, GO_ME0_TERMS, GO_ME0_COUNT, PADJ_CMAP(norm_g0(np.array(GO_ME0_PADJ))),
        12, 3, 1.5, 17.5, 20)
axG1.set_xticks([0, 3, 6, 9])
axG1.tick_params(axis="x", pad=7)

axG2 = fig.add_axes(box(762, 1553.6, 1115.4, 2340.7))
go_axes(axG2, GO_ME1_TERMS, GO_ME1_COUNT, PADJ_CMAP(norm_g1(np.array(GO_ME1_PADJ))),
        49, 10, 5, 17.5, 20)
axG2.set_xticks([0, 10, 20, 30, 40, 50])
axG2.tick_params(axis="x", pad=3)


def padj_bar(rect, norm, cmap, ticks, labels, invert=True, pad=4):
    cax = fig.add_axes(box(*rect))
    cb = fig.colorbar(ScalarMappable(norm=norm, cmap=cmap), cax=cax, ticks=ticks)
    if invert:
        cax.invert_yaxis()
    cb.outline.set_visible(False)
    cb.set_ticklabels(labels)
    cax.tick_params(labelsize=FS, color="white", length=4, width=1.2, direction="in", pad=pad)
    return cb


padj_bar((413.6, 1409, 433.7, 1525), norm_g0, PADJ_CMAP, [0.005, 0.015, 0.025],
         ["0.005", "0.015", "0.025"], pad=4)
T(462, 1379, "$p$.adjust")
T(366, 1461, "ME-0")
padj_bar((149, 1595.4, 176.3, 1730), norm_g1, PADJ_CMAP, [0.01, 0.02], ["0.01", "0.02"], pad=7)
T(201, 1576, "$p$.adjust")
T(111, 1651, "ME-1")


# ---------------- H ----------------
def kegg_axes(rect, item, title, title_xy, gr_xy, pbar_rect, ptitle_xy, count_xy):
    term, gr, count, padj = item
    ax = fig.add_axes(box(*rect))
    ax.scatter([gr], [0], s=s_px(39), color=H_COLOR, linewidths=0, zorder=3)
    ax.set_xlim(gr - 0.00425, gr + 0.00353)
    ax.set_ylim(-1, 1)
    ax.xaxis.set_major_locator(MultipleLocator(0.002))
    ax.xaxis.set_minor_locator(MultipleLocator(0.001))
    ax.set_yticks([0], [term])
    ax.grid(True, which="major", color="#E4E4E4", lw=1.4, zorder=0)
    ax.grid(True, which="minor", axis="x", color="#F0F0F0", lw=0.9, zorder=0)
    ax.tick_params(axis="x", which="both", length=0, labelbottom=False)
    ax.tick_params(axis="y", length=0, labelsize=FS, pad=5 if len(term) > 12 else -3)
    for sp in ax.spines.values():
        sp.set_color("#333333")
        sp.set_linewidth(1.3)
    T(*title_xy, title)
    T(*gr_xy, "GeneRatio")
    padj_bar(pbar_rect, Normalize(padj - 0.0005, padj + 0.0005), ListedColormap([H_COLOR]),
             [padj], [f"{padj:.3f}"], invert=False, pad=3)
    T(*ptitle_xy, "$p$.adjust")
    cx, cy = count_xy
    T(cx, cy, "Count")
    dot(cx - 26, cy + 31, 23.5, "black")
    T(cx + 8, cy + 26, str(count))


kegg_axes((1674.7, 1479.7, 1791.4, 1629.4), H_ME0, "ME-0", (1733, 1454), (1731, 1660),
          (1820.6, 1493.4, 1844.2, 1609.5), (1872, 1449), (1861, 1642))
kegg_axes((1683.6, 1773.7, 1798.7, 1922.5), H_ME1, "ME-1", (1752, 1746), (1740, 1954),
          (1829, 1786.5, 1852, 1903), (1880, 1742), (1869, 1935))

fig.savefig("out.png", dpi=100)
